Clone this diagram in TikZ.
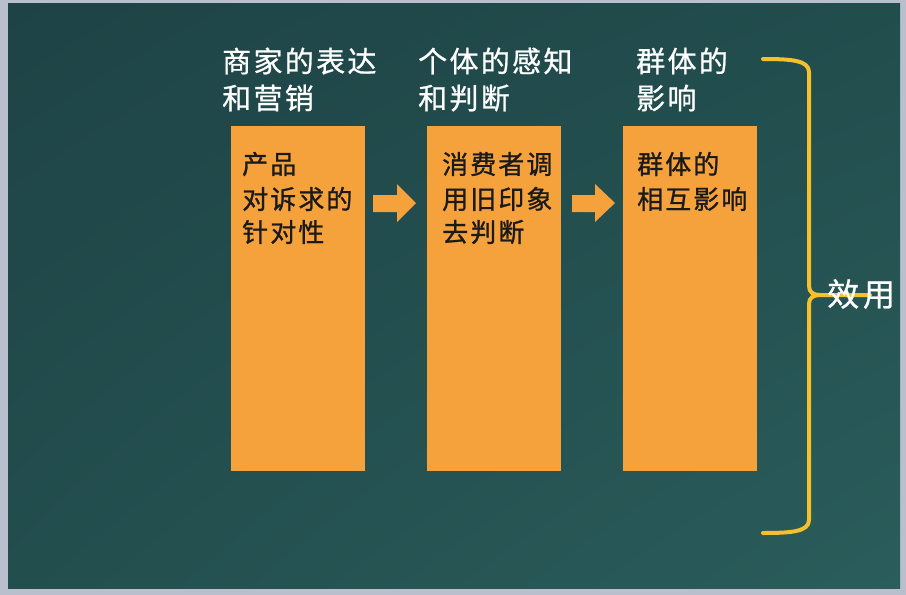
\documentclass[tikz,border=0pt]{standalone}
\usepackage{fontspec}
\usetikzlibrary{shadings}
\newfontfamily\cjkhead[LetterSpace=8,FakeBold=0.8]{Noto Sans CJK SC}
\newfontfamily\cjkbox[LetterSpace=8,FakeBold=1]{Noto Sans CJK SC}
\newfontfamily\cjkbig[LetterSpace=12,FakeBold=0.8]{Noto Sans CJK SC}
\definecolor{frame}{HTML}{B9BFCD}
\definecolor{boardA}{HTML}{1E4346}
\definecolor{boardB}{HTML}{224D4D}
\definecolor{boardC}{HTML}{234E4E}
\definecolor{boardD}{HTML}{2A5D5B}
\definecolor{boxor}{HTML}{F6A23C}
\definecolor{bracey}{HTML}{F5C02C}
\definecolor{ink}{HTML}{1A1A1A}
\tikzset{
  headtxt/.style={anchor=west, inner sep=0pt, text=white, font=\cjkhead\fontsize{29}{31}\selectfont},
  boxtxt/.style={anchor=west, inner sep=0pt, text=ink, font=\cjkbox\fontsize{26}{28}\selectfont},
  stagebox/.style={fill=boxor, draw=none, minimum width=134pt, minimum height=345pt, inner sep=0pt, anchor=north west},
  blockarrow/.style={fill=boxor, draw=none},
  bracestroke/.style={draw=bracey, line width=4pt, line cap=round, line join=round},
}
\begin{document}
\begin{tikzpicture}[x=1pt,y=-1pt]
\useasboundingbox (0,0) rectangle (906,595);
\fill[frame] (0,0) rectangle (906,595);
\shade[upper left=boardA, upper right=boardB, lower left=boardC, lower right=boardD] (8,3) rectangle (900,588);

% boxes
\node[stagebox] (b1) at (231,126) {};
\node[stagebox] (b2) at (427,126) {};
\node[stagebox] (b3) at (623,126) {};

% headers
\node[headtxt] (h1a) at (222,61) {商家的表达};
\node[headtxt] (h1b) at (222,98) {和营销};
\node[headtxt] (h2a) at (418,61) {个体的感知};
\node[headtxt] (h2b) at (418,98) {和判断};
\node[headtxt] (h3a) at (636,61) {群体的};
\node[headtxt] (h3b) at (636,98) {影响};

% box texts
\node[boxtxt] (t1a) at (242,164) {产品};
\node[boxtxt] (t1b) at (242,199) {对诉求的};
\node[boxtxt] (t1c) at (242,232) {针对性};
\node[boxtxt] (t2a) at (442,164) {消费者调};
\node[boxtxt] (t2b) at (442,199) {用旧印象};
\node[boxtxt] (t2c) at (442,232) {去判断};
\node[boxtxt] (t3a) at (637,164) {群体的};
\node[boxtxt] (t3b) at (637,199) {相互影响};

% block arrows
\fill[blockarrow] (373,195) -- (397,195) -- (397,184) -- (416,203) -- (397,222) -- (397,212) -- (373,212) -- cycle;
\fill[blockarrow] (572,195) -- (595,195) -- (595,184) -- (615,203) -- (595,222) -- (595,212) -- (572,212) -- cycle;

% brace
\coordinate (btop) at (763,59);
\coordinate (bbot) at (763,533);
\coordinate (bmid) at (870,295);
\draw[bracestroke] (btop) .. controls (790,59) and (809,60) .. (809,72)
  -- (809,286) .. controls (809,292) and (813,295) .. (820,295) -- (bmid);
\draw[bracestroke] (bbot) .. controls (790,533) and (809,532) .. (809,520)
  -- (809,304) .. controls (809,298) and (813,295) .. (820,295);

\node[anchor=west, inner sep=0pt, text=white, font=\cjkbig\fontsize{32}{34}\selectfont] (res) at (827,294) {效用};
\end{tikzpicture}
\end{document}
